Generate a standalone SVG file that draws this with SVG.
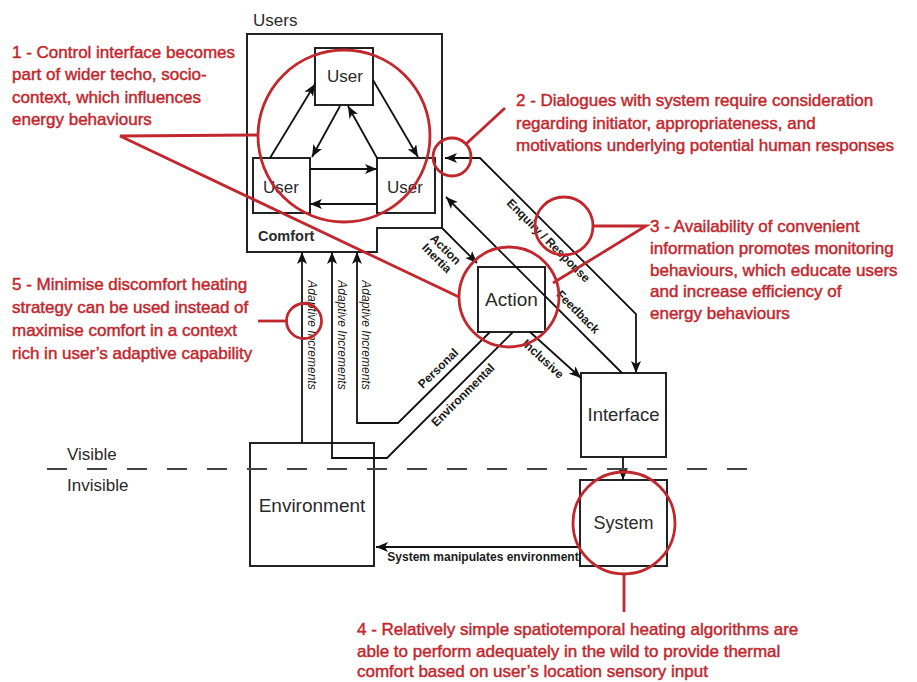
<svg xmlns="http://www.w3.org/2000/svg" width="917" height="682" viewBox="0 0 917 682">
<defs>
<marker id="ah" viewBox="0 0 12 10" refX="12" refY="5" markerWidth="12" markerHeight="10" markerUnits="userSpaceOnUse" orient="auto-start-reverse">
<path d="M0,0 L12,5 L0,10 L3,5 z" fill="#111"/>
</marker>
<style>
.box{fill:#fff;stroke:#222;stroke-width:2}
.ln{fill:none;stroke:#111;stroke-width:1.8}
.arr{fill:none;stroke:#111;stroke-width:1.8;marker-end:url(#ah)}
.node{font-family:"Liberation Sans",Arial,sans-serif;fill:#2a2a2a;text-anchor:middle}
.lbl{font-family:"Liberation Sans",Arial,sans-serif;fill:#1a1a1a;font-size:12px;font-weight:bold;text-anchor:middle}
.ad{font-family:"Liberation Sans",Arial,sans-serif;fill:#1a1a1a;font-size:12px;font-style:italic;text-anchor:middle}
.red{fill:none;stroke:#c1272d;stroke-width:2.8}
.note{font-family:"Liberation Sans",Arial,sans-serif;fill:#c1272d;font-size:17px;stroke:#c1272d;stroke-width:0.45}
</style>
</defs>

<g id="users">
<path class="box" d="M247,34 H442 V228 H377 V252 H247 Z"/>
<text class="node" x="253" y="26" font-size="17" style="text-anchor:start">Users</text>
<text class="node" x="258" y="241" font-size="14.5" font-weight="bold" style="text-anchor:start">Comfort</text>
</g>
<g id="user-top">
<rect class="box" x="315" y="48" width="58" height="57"/>
<text class="node" x="345" y="82" font-size="17">User</text>
</g>
<g id="user-left">
<rect class="box" x="253" y="158" width="57" height="55"/>
<text class="node" x="281" y="193" font-size="17">User</text>
</g>
<g id="user-right">
<rect class="box" x="377" y="158" width="58" height="55"/>
<text class="node" x="405" y="193" font-size="17">User</text>
</g>
<g id="action">
<rect class="box" x="478" y="267" width="67" height="65"/>
<text class="node" x="511.5" y="306" font-size="19">Action</text>
</g>
<g id="interface">
<rect class="box" x="581" y="373" width="85" height="84"/>
<text class="node" x="623.5" y="421" font-size="18.5">Interface</text>
</g>
<g id="system">
<rect class="box" x="580" y="480" width="87" height="86"/>
<text class="node" x="623.5" y="529" font-size="18">System</text>
</g>
<g id="environment">
<rect class="box" x="250" y="443" width="124" height="123"/>
<text class="node" x="312" y="512" font-size="19">Environment</text>
</g>

<g id="connectors">
<path class="arr" d="M270,158 L315,84"/>
<path class="arr" d="M340,106 L312,157"/>
<path class="arr" d="M377,158 L348,106"/>
<path class="arr" d="M373,80 L418,157"/>
<path class="arr" d="M310,169 L377,169"/>
<path class="arr" d="M377,204 L310,204"/>
<path class="arr" d="M445,158 L480,158 L636,314 L636,373" style="marker-start:url(#ah)"/>
<path class="arr" d="M622,373 L446,197"/>
<path class="arr" d="M442,228 L477,263"/>
<path class="arr" d="M530,332 L581,378"/>
<path class="arr" d="M490,332 L398,423 L357,423 L357,252"/>
<path class="arr" d="M513,332 L387,458 L332,458 L332,252"/>
<path class="arr" d="M302,443 L302,252"/>
<path class="arr" d="M623,457 L623,480"/>
<path class="arr" d="M580,547 L376,547"/>
<path d="M47,469 H757" fill="none" stroke="#444" stroke-width="2" stroke-dasharray="20 20"/>
<text class="lbl" x="545.6" y="243.4" transform="rotate(45 545.6 243.4)">Enquiry / Response</text>
<text class="lbl" x="575.2" y="314.8" transform="rotate(45 575.2 314.8)">Feedback</text>
<text class="lbl" x="540.3" y="361.8" transform="rotate(42.6 540.3 361.8)">Inclusive</text>
<text class="lbl" x="441" y="371.2" transform="rotate(-44.4 441 371.2)">Personal</text>
<text class="lbl" x="465.8" y="397.9" transform="rotate(-44.8 465.8 397.9)">Environmental</text>
<text class="lbl" x="442.7" y="252.3" transform="rotate(45 442.7 252.3)">Action</text>
<text class="lbl" x="433.9" y="261.1" transform="rotate(45 433.9 261.1)">Inertia</text>
<text class="ad" x="308" y="335" transform="rotate(90 308 335)">Adaptive Increments</text>
<text class="ad" x="338" y="335" transform="rotate(90 338 335)">Adaptive Increments</text>
<text class="ad" x="362" y="335" transform="rotate(90 362 335)">Adaptive Increments</text>
<text class="lbl" x="483" y="561" font-size="11.5">System manipulates environment</text>
<text class="node" x="67" y="460" font-size="17" style="text-anchor:start">Visible</text>
<text class="node" x="67" y="491" font-size="17" style="text-anchor:start">Invisible</text>
</g>

<g id="annotations">
<circle class="red" cx="344" cy="136" r="86"/>
<circle class="red" cx="509" cy="297" r="50"/>
<circle class="red" cx="452" cy="157" r="19"/>
<circle class="red" cx="564" cy="226" r="29"/>
<circle class="red" cx="624" cy="523" r="51"/>
<circle class="red" cx="304" cy="321" r="17.5"/>
<path class="red" d="M258,135 L120,136 L459,297"/>
<path class="red" d="M466,144 L505,108"/>
<path class="red" d="M593,226 L646,226 L553,283"/>
<path class="red" d="M624,574 L624,612"/>
<path class="red" d="M258,321 L286.5,321"/>
<text class="note" x="12"><tspan x="12" y="57.5">1 - Control interface becomes</tspan><tspan x="12" y="80">part of wider techo, socio-</tspan><tspan x="12" y="102.5">context, which influences</tspan><tspan x="12" y="125">energy behaviours</tspan></text>
<text class="note"><tspan x="516" y="106">2 - Dialogues with system require consideration</tspan><tspan x="516" y="128.5">regarding initiator, appropriateness, and</tspan><tspan x="516" y="151">motivations underlying potential human responses</tspan></text>
<text class="note"><tspan x="650" y="232">3 - Availability of convenient</tspan><tspan x="650" y="254">information promotes monitoring</tspan><tspan x="650" y="275.5">behaviours, which educate users</tspan><tspan x="650" y="297">and increase efficiency of</tspan><tspan x="650" y="319">energy behaviours</tspan></text>
<text class="note"><tspan x="357" y="635">4 - Relatively simple spatiotemporal heating algorithms are</tspan><tspan x="357" y="656.5">able to perform adequately in the wild to provide thermal</tspan><tspan x="357" y="677">comfort based on user’s location sensory input</tspan></text>
<text class="note"><tspan x="12" y="290">5 - Minimise discomfort heating</tspan><tspan x="12" y="313">strategy can be used instead of</tspan><tspan x="12" y="336">maximise comfort in a context</tspan><tspan x="12" y="359">rich in user’s adaptive capability</tspan></text>
</g>
</svg>
